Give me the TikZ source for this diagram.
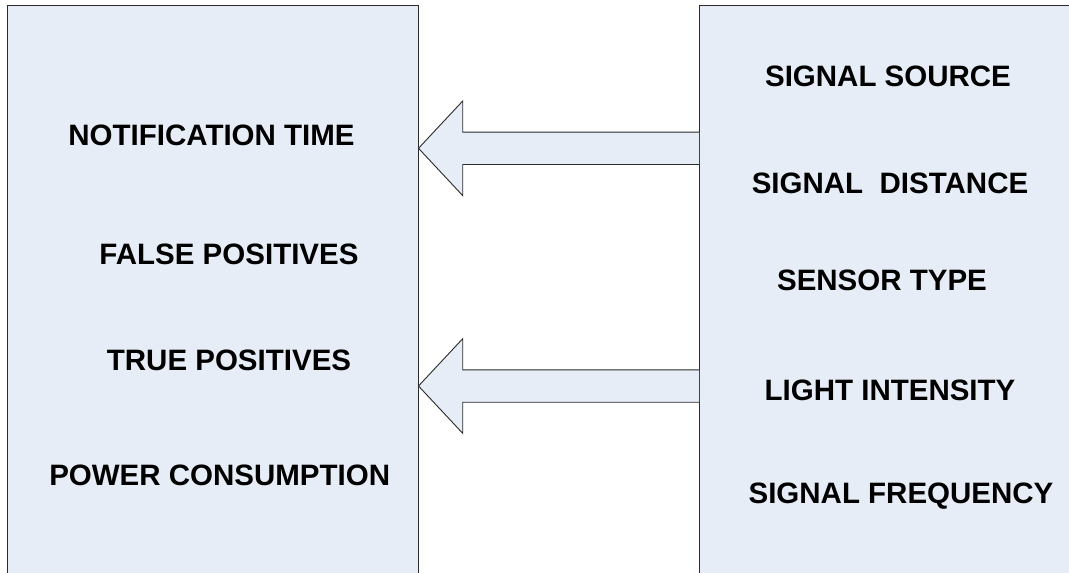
\documentclass[tikz,border=0pt]{standalone}
\usepackage{fontspec}
\setmainfont{Liberation Sans}
\usetikzlibrary{calc}
\definecolor{panelblue}{HTML}{E6EDF7}
\definecolor{edgegray}{HTML}{2A2A2A}
\begin{document}
\begin{tikzpicture}[x=1pt,y=-1pt,
  panel/.style={draw=edgegray, line width=1pt, fill=panelblue, inner sep=0pt, outer sep=0pt, anchor=north west},
  label/.style={anchor=base, inner sep=0pt, font=\fontsize{29.5}{35}\selectfont\bfseries},
  arrowedge/.style={draw=edgegray, line width=0.9pt, line join=miter}]
\useasboundingbox (0,0) rectangle (1069,573);

% the two panels
\node[panel, minimum width=411.5pt, minimum height=590pt] (left) at (7,5.5) {};
\node[panel, minimum width=390pt, minimum height=590pt] (right) at (699,5.5) {};

% hollow block arrows from the right panel to the left panel
\foreach \ay in {148.3,386}{
  \path (left.east |- 0,\ay) coordinate (tip)
        (right.west |- 0,\ay) coordinate (tail);
  \fill[panelblue] (tip) -- ($(tip)+(44.2,-47.3)$) -- ($(tip)+(44.2,-16.2)$)
    -- ($(tail)+(0,-16.2)$) -- ($(tail)+(0,16.2)$) -- ($(tip)+(44.2,16.2)$)
    -- ($(tip)+(44.2,47.3)$) -- cycle;
  \draw[arrowedge] ($(tail)+(0,-16.2)$) -- ($(tip)+(44.2,-16.2)$)
    -- ($(tip)+(44.2,-47.3)$) -- (tip) -- ($(tip)+(44.2,47.3)$)
    -- ($(tip)+(44.2,16.2)$) -- ($(tail)+(0,16.2)$);
}

% left panel labels
\node[label] (notif) at (211.5,145.7) {NOTIFICATION TIME};
\node[label] (fpos)  at (229,264.3) {FALSE POSITIVES};
\node[label] (tpos)  at (229,370) {TRUE POSITIVES};
\node[label] (power) at (219.7,485.7) {POWER CONSUMPTION};

% right panel labels
\node[label] (src)   at (888,86.7) {SIGNAL SOURCE};
\node[label] (dist)  at (890,193.3) {SIGNAL\ \ DISTANCE};
\node[label] (stype) at (882,290) {SENSOR TYPE};
\node[label] (light) at (890,400) {LIGHT INTENSITY};
\node[label] (freq)  at (901,503) {SIGNAL FREQUENCY};
\end{tikzpicture}
\end{document}
